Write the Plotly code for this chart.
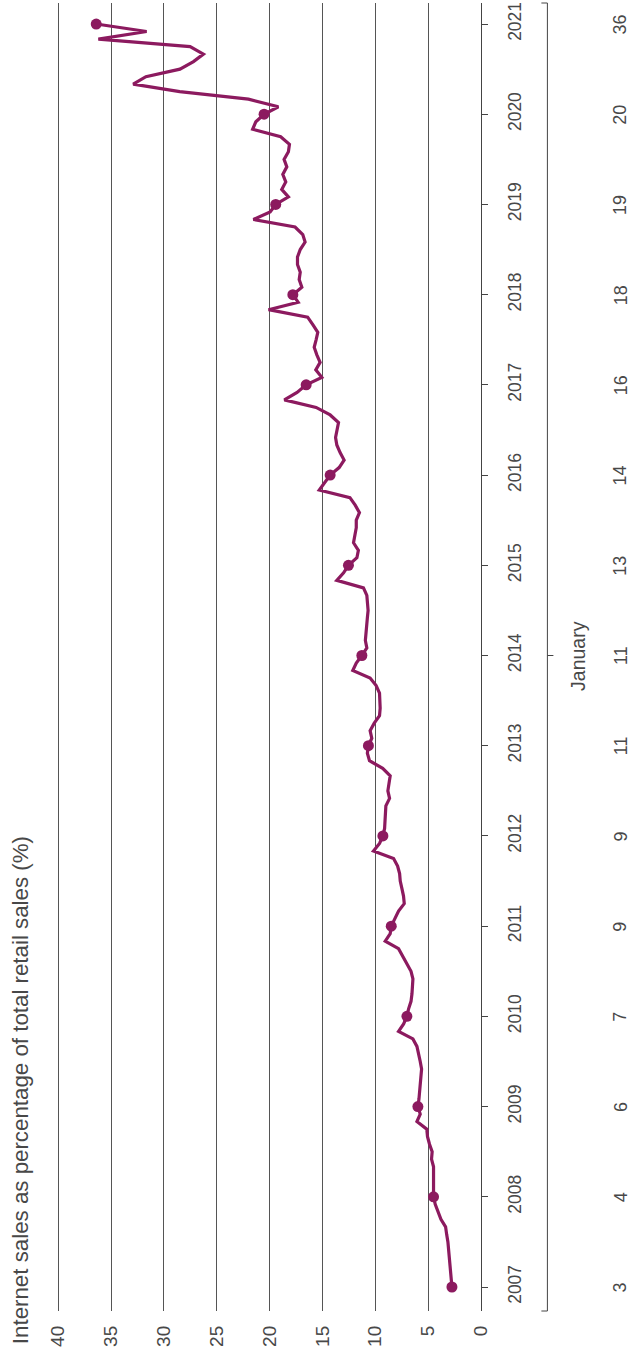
import plotly.graph_objects as go

# Internet sales as % of total retail sales, monthly, Jan 2007 .. Jan 2021
start_year = 2007
share_pct = [
    # 2007
    2.75, 2.81, 2.91, 2.97, 3.00, 3.03, 3.13, 3.25, 3.35, 3.79, 4.05, 4.33,
    # 2008
    4.49, 4.49, 4.55, 4.52, 4.49, 4.68, 4.62, 4.87, 5.06, 5.13, 6.06, 5.75,
    # 2009
    5.97, 5.87, 5.81, 5.75, 5.69, 5.62, 5.75, 5.87, 6.06, 6.44, 7.80, 7.32,
    # 2010
    7.01, 6.85, 6.62, 6.53, 6.47, 6.44, 6.62, 7.01, 7.39, 7.80, 9.06, 8.59,
    # 2011
    8.49, 8.12, 7.80, 7.26, 7.33, 7.48, 7.64, 7.70, 7.89, 8.27, 10.17, 9.60,
    # 2012
    9.28, 9.12, 9.06, 9.06, 9.00, 8.65, 8.81, 8.70, 8.59, 9.30, 10.55, 10.75,
    # 2013
    10.65, 10.33, 10.49, 10.10, 9.60, 9.54, 9.54, 9.60, 9.92, 10.49, 12.13, 11.80,
    # 2014
    11.27, 10.80, 10.94, 10.90, 10.80, 10.75, 10.68, 10.71, 10.80, 11.12, 13.64, 13.00,
    # 2015
    12.54, 11.74, 11.60, 12.06, 11.90, 11.80, 11.80, 11.50, 11.90, 12.40, 15.30, 14.80,
    # 2016
    14.27, 13.42, 12.95, 13.33, 13.64, 13.76, 13.64, 13.48, 14.27, 15.60, 18.60, 17.40,
    # 2017
    16.54, 15.06, 15.63, 15.22, 15.53, 15.78, 15.60, 15.44, 15.91, 16.40, 20.10, 17.30,
    # 2018
    17.80, 16.95, 17.20, 17.10, 17.36, 17.36, 17.10, 16.64, 16.86, 17.59, 21.53, 19.95,
    # 2019
    19.42, 18.22, 18.85, 18.47, 18.75, 18.37, 18.63, 18.22, 18.12, 18.95, 21.60, 21.30,
    # 2020
    20.52, 19.17, 22.00, 28.50, 32.90, 31.70, 28.48, 27.20, 26.26, 27.52, 36.20, 31.63,
    # 2021
    36.40,
]
years = list(range(2007, 2022))
year_labels = [str(y) for y in years]
jan_labels = ["3", "4", "6", "7", "9", "9", "11", "11", "13", "14",
              "16", "18", "19", "20", "36"]
value_ticks = [0, 5, 10, 15, 20, 25, 30, 35, 40]

title_text = "Internet sales as percentage of total retail sales (%)"
axis_note = "January"

LINE_C = "#8c1a5f"
TEXT_C = "#484848"
AX_C = "#444444"
FONT = "Liberation Sans, Arial, sans-serif"

t = [start_year + i / 12 for i in range(len(share_pct))]
jan_t = t[::12]
jan_v = share_pct[::12]

fig = go.Figure()
fig.add_trace(go.Scatter(x=share_pct, y=t, mode="lines",
                         line=dict(color=LINE_C, width=3.2),
                         hoverinfo="skip", showlegend=False))
fig.add_trace(go.Scatter(x=jan_v, y=jan_t, mode="markers",
                         marker=dict(color=LINE_C, size=11),
                         hoverinfo="skip", showlegend=False))

# plot-area geometry in pixels
W, H = 630, 1352
L, R, T, B = 55.3, 149.3, 3, 41
pw = W - L - R
ph = H - T - B


def px_x(px):
    return (px - L) / pw


def px_y(py):
    return (H - B - py) / ph


annotations = []
for y, lab in zip(years, jan_labels):
    annotations.append(dict(x=px_x(620), xref="paper", y=y, yref="y",
                            text=lab, showarrow=False, textangle=-90,
                            font=dict(size=18, color=TEXT_C, family=FONT),
                            xanchor="center", yanchor="middle"))
annotations.append(dict(x=px_x(577), xref="paper", y=2014, yref="y",
                        text=axis_note, showarrow=False, textangle=-90,
                        font=dict(size=19.5, color=TEXT_C, family=FONT),
                        xanchor="center", yanchor="middle"))
annotations.append(dict(x=px_x(20.5), xref="paper", y=px_y(1346), yref="paper",
                        text=title_text, showarrow=False, textangle=-90,
                        font=dict(size=22.3, color=TEXT_C, family=FONT),
                        xanchor="center", yanchor="bottom"))

br = px_x(547)
cap = 6 / pw
shapes = [
    dict(type="line", xref="paper", yref="paper", x0=br, x1=br, y0=0, y1=1,
         line=dict(color=AX_C, width=1)),
    dict(type="line", xref="paper", yref="paper", x0=br - cap, x1=br, y0=1, y1=1,
         line=dict(color=AX_C, width=1)),
    dict(type="line", xref="paper", yref="paper", x0=br - cap, x1=br, y0=0, y1=0,
         line=dict(color=AX_C, width=1)),
    dict(type="line", xref="paper", yref="y", x0=br, x1=br + cap, y0=2014, y1=2014,
         line=dict(color=AX_C, width=1)),
]

fig.update_layout(
    width=W, height=H,
    margin=dict(l=L, r=R, t=T, b=B, pad=0),
    paper_bgcolor="white", plot_bgcolor="white",
    font=dict(family=FONT, color=TEXT_C),
    xaxis=dict(range=[40.3, 0], tickvals=value_ticks,
               ticktext=[str(v) for v in value_ticks], tickangle=-90,
               showgrid=True, gridcolor="#555555", gridwidth=1,
               zeroline=False, showline=False, ticks="",
               tickfont=dict(size=19, color=TEXT_C, family=FONT),
               ticklabelstandoff=10, fixedrange=True),
    yaxis=dict(range=[2006.734, 2021.233], side="right", tickvals=years,
               ticktext=year_labels, tickangle=-90,
               ticks="outside", ticklen=6, tickcolor=AX_C,
               showline=True, linecolor=AX_C, linewidth=1,
               showgrid=False, zeroline=False,
               tickfont=dict(size=17.5, color=TEXT_C, family=FONT),
               ticklabelstandoff=12, fixedrange=True),
    annotations=annotations,
    shapes=shapes,
)

fig.write_html("out.html",
               config={"displayModeBar": False, "staticPlot": True},
               post_script="document.body.style.margin='0';"
                           "document.body.style.padding='0';"
                           "document.body.style.overflow='hidden';")
